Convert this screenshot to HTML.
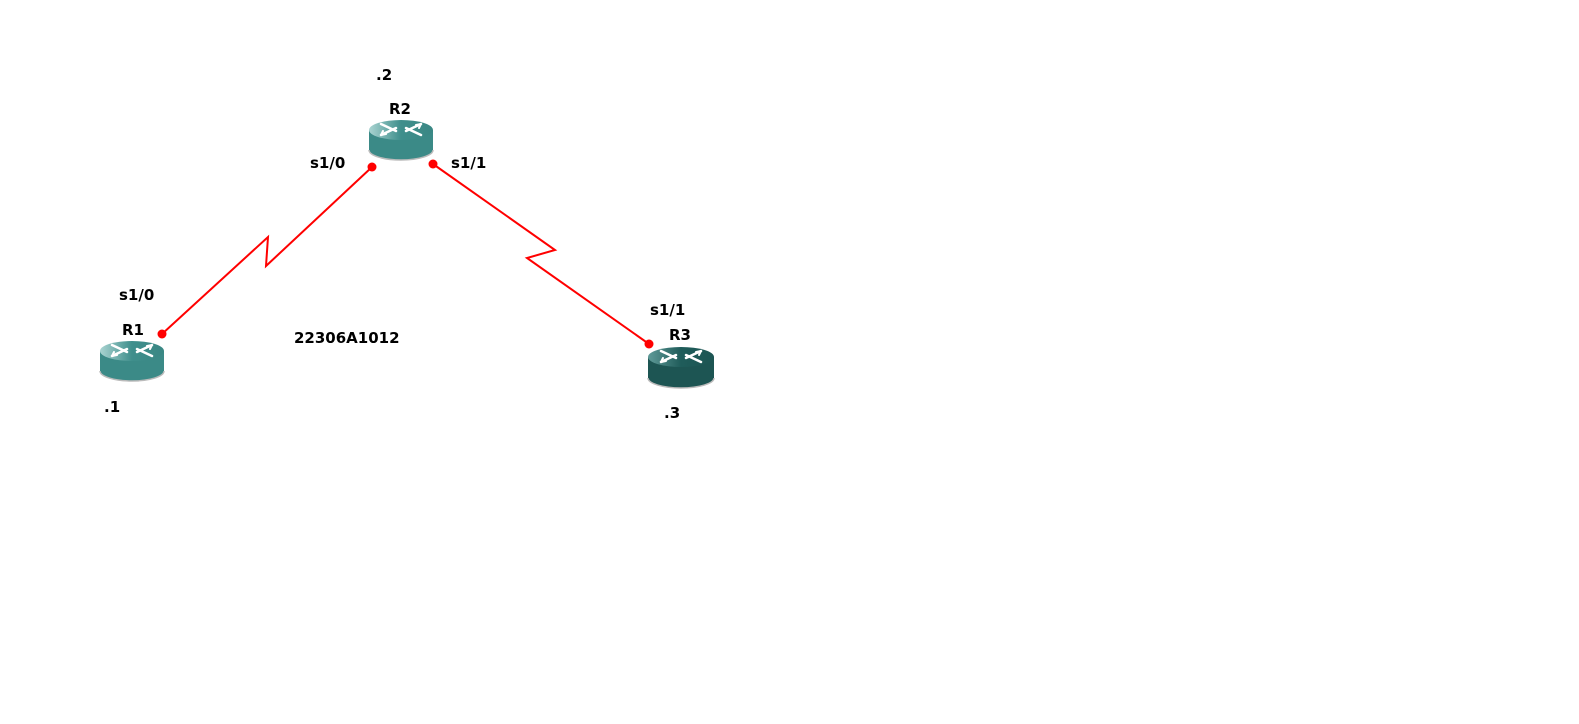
<!DOCTYPE html>
<html><head><style>
body{margin:0;background:#fff;width:1579px;height:719px;overflow:hidden}
text{font-family:"DejaVu Sans","Liberation Sans",sans-serif;font-weight:bold;font-size:15px;fill:#000}
</style></head><body>
<svg width="1579" height="719" xmlns="http://www.w3.org/2000/svg">
<defs>
<linearGradient id="g1" x1="0" x2="1"><stop offset="0" stop-color="#a9d3d1"/><stop offset="0.5" stop-color="#3f8f8c"/><stop offset="1" stop-color="#3a8784"/></linearGradient>
<linearGradient id="g2" x1="0" x2="1"><stop offset="0" stop-color="#5f9a98"/><stop offset="0.5" stop-color="#1f5c5a"/><stop offset="1" stop-color="#1d5553"/></linearGradient>
<g id="ar" stroke="#fff" stroke-width="2.5" fill="none" stroke-linecap="round">
<path d="M-20,-6 L-5,1 M-20,5 L-5,-2 M20,-6 L5,1 M20,5 L5,-2"/>
<path d="M-20,5 l5,-1 M-20,5 l2,-4 M20,-6 l-5,1 M20,-6 l-2,4" stroke-width="2"/>
</g>
<g id="rt">
<path d="M-32,0 L-32,20 A32,10 0 0 0 32,20 L32,0 Z" fill="#3b8a87"/>
<path d="M-32,20 A32,10 0 0 0 32,20" fill="none" stroke="#bbb" stroke-width="1.5"/>
<ellipse cx="0" cy="0" rx="32" ry="10" fill="url(#g1)"/>
<use href="#ar"/>
</g>
<g id="rt3">
<path d="M-33,0 L-33,21 A33,10 0 0 0 33,21 L33,0 Z" fill="#1d5553"/>
<path d="M-33,21 A33,10 0 0 0 33,21" fill="none" stroke="#bbb" stroke-width="1.5"/>
<ellipse cx="0" cy="0" rx="33" ry="10" fill="url(#g2)"/>
<use href="#ar"/>
</g>
</defs>
<polyline points="162,334 268,237 266,266 372,167" fill="none" stroke="#f00" stroke-width="2"/>
<polyline points="433,164 555,250 527,258 649,344" fill="none" stroke="#f00" stroke-width="2"/>
<use href="#rt" x="401" y="130"/>
<use href="#rt" x="132" y="351"/>
<use href="#rt3" x="681" y="357"/>
<circle cx="162" cy="334" r="4.5" fill="#f00"/>
<circle cx="372" cy="167" r="4.5" fill="#f00"/>
<circle cx="433" cy="164" r="4.5" fill="#f00"/>
<circle cx="649" cy="344" r="4.5" fill="#f00"/>
<text x="376" y="80">.2</text>
<text x="389" y="114">R2</text>
<text x="310" y="168">s1/0</text>
<text x="451" y="168">s1/1</text>
<text x="119" y="300">s1/0</text>
<text x="122" y="335">R1</text>
<text x="104" y="412">.1</text>
<text x="294" y="343">22306A1012</text>
<text x="650" y="315">s1/1</text>
<text x="669" y="340">R3</text>
<text x="664" y="418">.3</text>
</svg>
</body></html>
